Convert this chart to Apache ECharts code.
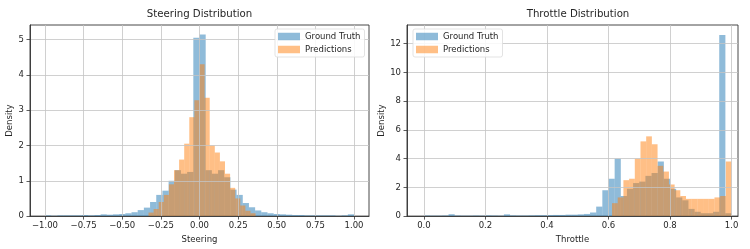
<!DOCTYPE html>
<html>
<head>
<meta charset="utf-8">
<script src="https://cdn.jsdelivr.net/npm/echarts@6/dist/echarts.min.js"></script>
<style>
html,body{margin:0;padding:0;background:#fff;}
#chart{width:750px;height:249px;}
</style>
</head>
<body>
<div id="chart"></div>
<script>
// ---------- Data ----------
const seriesNames = ['Ground Truth', 'Predictions'];

// Steering histogram (Ground Truth): bins from -1 to 1, width 0.04
const steerTruthBinStart = -1.0;
const steerTruthBinWidth = 0.04;
const steerTruth = [
  0.02, 0.01, 0.02, 0.02, 0.02, 0.02, 0.03, 0.02, 0.03, 0.05,
  0.04, 0.05, 0.06, 0.08, 0.11, 0.17, 0.24, 0.40, 0.60, 0.72,
  1.00, 1.30, 1.20, 1.25, 5.05, 5.14, 1.30, 1.20, 1.30, 1.10,
  0.75, 0.60, 0.37, 0.25, 0.16, 0.11, 0.08, 0.06, 0.05, 0.04,
  0.03, 0.03, 0.02, 0.02, 0.02, 0.02, 0.02, 0.01, 0.02, 0.05
];
// Steering histogram (Predictions): bins from -0.33, width 0.033
const steerPredBinStart = -0.33;
const steerPredBinWidth = 0.033;
const steerPred = [
  0.10, 0.20, 0.40, 0.60, 0.90, 1.30, 1.60, 2.05, 2.80, 3.28,
  4.30, 3.35, 2.00, 1.80, 1.55, 1.20, 0.80, 0.50, 0.30, 0.15, 0.08
];

// Throttle histogram (Ground Truth): bins from 0 to 1, width 0.02
const throttleTruthBinStart = 0.0;
const throttleTruthBinWidth = 0.02;
const throttleTruth = [
  0.04, 0.03, 0.03, 0.04, 0.13, 0.04, 0.03, 0.03, 0.04, 0.03,
  0.05, 0.04, 0.03, 0.12, 0.05, 0.04, 0.04, 0.05, 0.06, 0.06,
  0.07, 0.08, 0.08, 0.10, 0.10, 0.12, 0.15, 0.25, 0.66, 1.80,
  2.60, 4.00, 1.40, 1.90, 2.30, 2.40, 2.80, 3.00, 3.80, 2.60,
  1.90, 1.30, 1.10, 0.50, 0.30, 0.20, 0.20, 0.30, 12.60, 0.20
];
// Throttle histogram (Predictions): bins from 0.6115 to 1, width 0.0185
const throttlePredBinStart = 0.6115;
const throttlePredBinWidth = 0.0185;
const throttlePred = [
  0.90, 1.30, 2.50, 2.60, 4.00, 5.20, 5.55, 5.00, 3.50, 3.10,
  2.20, 1.80, 1.40, 1.20, 1.20, 1.20, 1.20, 1.20, 1.30, 1.40, 3.80
];

// Tick labels
const steerXTicks = [-1.00, -0.75, -0.50, -0.25, 0.00, 0.25, 0.50, 0.75, 1.00];
const steerYTicks = [0, 1, 2, 3, 4, 5];
const throttleXTicks = [0.0, 0.2, 0.4, 0.6, 0.8, 1.0];
const throttleYTicks = [0, 2, 4, 6, 8, 10, 12];

// ---------- Build ----------
function toBins(start, width, values) {
  return values.map((v, i) => [start + i * width, start + (i + 1) * width, v]);
}
const blue = 'rgba(31,119,180,0.5)';
const orange = 'rgba(255,127,14,0.5)';
const font = 'DejaVu Sans';
const textColor = '#262626';

function renderBar(params, api) {
  const p0 = api.coord([api.value(0), 0]);
  const p1 = api.coord([api.value(1), api.value(2)]);
  return {
    type: 'rect',
    shape: { x: p0[0], y: p1[1], width: p1[0] - p0[0], height: p0[1] - p1[1] },
    style: { fill: api.visual('color') }
  };
}

function histSeries(name, idx, data, color) {
  return {
    type: 'custom', name: name, xAxisIndex: idx, yAxisIndex: idx,
    renderItem: renderBar, clip: true,
    itemStyle: { color: color },
    encode: { x: [0, 1], y: 2 },
    data: data
  };
}

const axisLabelStyle = { color: textColor, fontFamily: font, fontSize: 8.5 };
const splitLineStyle = { show: true, lineStyle: { color: '#c4c4c4', width: 0.8 } };
const axisLineStyle = { show: true, onZero: false, lineStyle: { color: '#333', width: 0.9 } };
const tickStyle = (vals) => ({ show: true, customValues: vals, length: 3.5, lineStyle: { color: '#333', width: 0.8 } });

const signed = (d) => (v) => (v < 0 ? '\u2212' : '') + Math.abs(v).toFixed(d);

const option = {
  animation: false,
  backgroundColor: '#fff',
  title: [
    { text: 'Steering Distribution', left: 199.5, top: 9, textAlign: 'center', padding: 0,
      textStyle: { fontFamily: font, fontSize: 10.2, fontWeight: 'normal', color: textColor } },
    { text: 'Throttle Distribution', left: 578, top: 9, textAlign: 'center', padding: 0,
      textStyle: { fontFamily: font, fontSize: 10.2, fontWeight: 'normal', color: textColor } }
  ],
  legend: [
    { data: seriesNames, orient: 'vertical', left: 275, top: 29, padding: [3, 4, 3, 3],
      itemWidth: 22, itemHeight: 7.5, itemGap: 4, icon: 'rect',
      backgroundColor: 'rgba(255,255,255,0.85)', borderColor: '#dcdcdc', borderWidth: 0.8, borderRadius: 2,
      textStyle: { fontFamily: font, fontSize: 8.5, color: textColor }, selectedMode: false, z: 10 },
    { data: seriesNames, orient: 'vertical', left: 413, top: 29, padding: [3, 4, 3, 3],
      itemWidth: 22, itemHeight: 7.5, itemGap: 4, icon: 'rect',
      backgroundColor: 'rgba(255,255,255,0.85)', borderColor: '#dcdcdc', borderWidth: 0.8, borderRadius: 2,
      textStyle: { fontFamily: font, fontSize: 8.5, color: textColor }, selectedMode: false, z: 10 }
  ],
  grid: [
    { left: 30, top: 25, width: 339, height: 194.3, show: true, borderColor: '#333', borderWidth: 0.9, backgroundColor: 'transparent' },
    { left: 407, top: 25, width: 331, height: 194.3, show: true, borderColor: '#333', borderWidth: 0.9, backgroundColor: 'transparent' }
  ],
  xAxis: [
    { type: 'value', gridIndex: 0, min: -1.097, max: 1.097, z: 3,
      name: 'Steering', nameLocation: 'middle', nameGap: 17,
      nameTextStyle: { fontFamily: font, fontSize: 8.5, color: textColor },
      axisLine: axisLineStyle, axisTick: tickStyle(steerXTicks),
      axisLabel: Object.assign({ customValues: steerXTicks, margin: 5, formatter: signed(2) }, axisLabelStyle),
      splitLine: splitLineStyle },
    { type: 'value', gridIndex: 1, min: -0.055, max: 1.021, z: 3,
      name: 'Throttle', nameLocation: 'middle', nameGap: 17,
      nameTextStyle: { fontFamily: font, fontSize: 8.5, color: textColor },
      axisLine: axisLineStyle, axisTick: tickStyle(throttleXTicks),
      axisLabel: Object.assign({ customValues: throttleXTicks, margin: 5, formatter: signed(1) }, axisLabelStyle),
      splitLine: splitLineStyle }
  ],
  yAxis: [
    { type: 'value', gridIndex: 0, min: 0, max: 5.41, z: 3,
      name: 'Density', nameLocation: 'middle', nameGap: 15, nameRotate: 90,
      nameTextStyle: { fontFamily: font, fontSize: 8.5, color: textColor },
      axisLine: axisLineStyle, axisTick: tickStyle(steerYTicks),
      axisLabel: Object.assign({ customValues: steerYTicks, margin: 6, formatter: (v) => String(v) }, axisLabelStyle),
      splitLine: splitLineStyle },
    { type: 'value', gridIndex: 1, min: 0, max: 13.3, z: 3,
      name: 'Density', nameLocation: 'middle', nameGap: 18, nameRotate: 90,
      nameTextStyle: { fontFamily: font, fontSize: 8.5, color: textColor },
      axisLine: axisLineStyle, axisTick: tickStyle(throttleYTicks),
      axisLabel: Object.assign({ customValues: throttleYTicks, margin: 6, formatter: (v) => String(v) }, axisLabelStyle),
      splitLine: splitLineStyle }
  ],
  series: [
    histSeries('Ground Truth', 0, toBins(steerTruthBinStart, steerTruthBinWidth, steerTruth), blue),
    histSeries('Predictions', 0, toBins(steerPredBinStart, steerPredBinWidth, steerPred), orange),
    histSeries('Ground Truth', 1, toBins(throttleTruthBinStart, throttleTruthBinWidth, throttleTruth), blue),
    histSeries('Predictions', 1, toBins(throttlePredBinStart, throttlePredBinWidth, throttlePred), orange)
  ]
};

const chart = echarts.init(document.getElementById('chart'), null, { renderer: 'canvas' });
chart.setOption(option);
</script>
</body>
</html>
